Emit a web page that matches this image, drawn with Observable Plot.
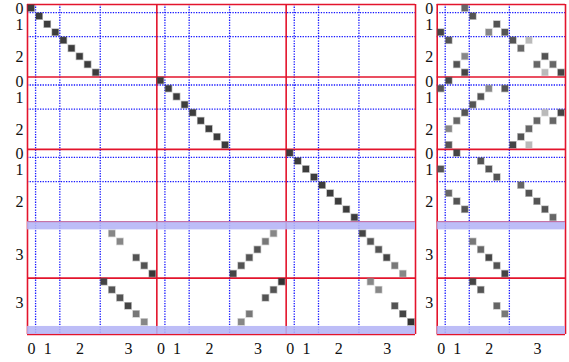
<!DOCTYPE html>
<html><head><meta charset="utf-8">
<script src="https://cdn.jsdelivr.net/npm/d3@7"></script>
<script src="https://cdn.jsdelivr.net/npm/@observablehq/plot@0.6"></script>
<style>
html,body{margin:0;padding:0;background:#fff;}
#wrap{display:flex;width:569px;height:362px;overflow:hidden;}
#wrap svg{display:block;flex:none;}
</style></head><body><div id="wrap"></div>
<script>
// tick labels (degree l) and multiplicities 2l+1
const degreeLabels = ["0", "1", "2", "3"];
const degreeSizes = [1, 3, 5, 7];
// row groups of the matrices (degrees in each group)
const rowGroups = [[0, 1, 2], [0, 1, 2], [0, 1, 2], [3], [3]];
// masked (shaded) rows
const maskedRows = [27, 40];
// number of column blocks per matrix
const leftBlocks = 3;
const rightBlocks = 1;

// cells: [row, col, darkness]
const leftDiagonal = [
  [0,0,.76],[1,1,.76],[2,2,.76],[3,3,.76],[4,4,.76],[5,5,.76],[6,6,.76],[7,7,.76],[8,8,.76],
  [9,16,.76],[10,17,.76],[11,18,.76],[12,19,.76],[13,20,.76],[14,21,.76],[15,22,.76],[16,23,.76],[17,24,.76],
  [18,32,.76],[19,33,.76],[20,34,.76],[21,35,.76],[22,36,.76],[23,37,.76],[24,38,.76],[25,39,.76],[26,40,.76]
];
const leftDegree3 = [
  [28,10,.47],[29,11,.47],[31,13,.67],[32,14,.67],[33,15,.78],
  [34,9,.73],[35,10,.67],[36,11,.67],[37,12,.73],[38,13,.53],[39,14,.47],
  [28,30,.47],[29,29,.53],[30,28,.67],[31,27,.67],[32,26,.67],[33,25,.73],
  [34,31,.8],[35,30,.67],[36,29,.67],[38,27,.53],[39,26,.47],
  [28,41,.73],[29,42,.67],[30,43,.67],[31,44,.73],[32,45,.53],[33,46,.47],
  [34,42,.47],[35,43,.47],[37,45,.67],[38,46,.73],[39,47,.8]
];
const rightCells = [
  [0,3,.6],[1,4,.67],[2,7,.67],[3,0,.73],[3,6,.47],[3,8,.67],[4,1,.67],[4,9,.67],[4,11,.27],
  [5,10,.6],[6,3,.47],[6,13,.67],[7,2,.67],[7,12,.6],[7,14,.6],[8,3,.73],[8,13,.27],[8,15,.73],
  [9,1,.73],[10,0,.67],[10,6,.47],[10,8,.67],[11,5,.67],[12,4,.67],[13,3,.67],[13,13,.27],[13,15,.73],
  [14,2,.6],[14,12,.6],[14,14,.6],[15,1,.47],[15,11,.6],[16,10,.67],[17,1,.67],[17,9,.73],[17,11,.27],
  [18,2,.73],[19,5,.67],[20,0,.67],[20,6,.67],[21,7,.67],[22,10,.6],[23,1,.6],[23,11,.67],
  [24,2,.67],[24,12,.67],[25,3,.67],[25,13,.67],[26,14,.6],
  [29,4,.53],[30,5,.6],[31,6,.73],[32,7,.67],[33,8,.73],
  [34,4,.73],[35,5,.67],[37,7,.6],[38,8,.53]
];

// ---- derived structure ----
const degStart = degreeSizes.map((s, i) => d3.sum(degreeSizes.slice(0, i)));
const blockSize = d3.sum(degreeSizes);
const groupStart = rowGroups.map((g, i) => d3.sum(rowGroups.slice(0, i), gg => d3.sum(gg, l => degreeSizes[l])));
const nRows = d3.sum(rowGroups, g => d3.sum(g, l => degreeSizes[l]));
const redRows = [...groupStart, nRows];
const blueRows = [];
const yTicks = [];
rowGroups.forEach((g, gi) => {
  let off = groupStart[gi];
  g.forEach((l, k) => {
    if (k > 0) blueRows.push(off);
    const rows = d3.range(off, off + degreeSizes[l]).filter(r => !maskedRows.includes(r));
    yTicks.push({pos: (d3.min(rows) + d3.max(rows) + 1) / 2, label: degreeLabels[l]});
    off += degreeSizes[l];
  });
});

const FONT = "'Liberation Serif', 'DejaVu Serif', serif";
const RED = "#e3142c";
const BLUE = "#1515ff";

function matrix(cells, nBlocks, opts) {
  const nCols = nBlocks * blockSize;
  const redCols = d3.range(nBlocks + 1).map(b => b * blockSize);
  const blueCols = d3.range(nBlocks).flatMap(b => degStart.slice(1).map(s => b * blockSize + s));
  const xTicks = d3.range(nBlocks).flatMap(b => degreeLabels.map((lab, i) => ({pos: b * blockSize + degStart[i] + degreeSizes[i] / 2, label: lab})));
  return Plot.plot({
    width: opts.width, height: 362,
    marginLeft: opts.marginLeft, marginRight: opts.marginRight, marginTop: 4, marginBottom: 28,
    x: {domain: [0, nCols], axis: null},
    y: {domain: [0, nRows], reverse: true, axis: null},
    color: {type: "linear", domain: [0, 1], range: ["#ffffff", "#000000"]},
    marks: [
      Plot.ruleX(blueCols, {x: d => d, y1: 0, y2: nRows, stroke: BLUE, strokeWidth: 1.3, strokeDasharray: "1.3,1.3"}),
      Plot.ruleY(blueRows, {y: d => d, x1: 0, x2: nCols, stroke: BLUE, strokeWidth: 1.3, strokeDasharray: "1.3,1.3"}),
      Plot.ruleY(redRows, {y: d => d, x1: 0, x2: nCols, stroke: RED, strokeWidth: 1.6}),
      Plot.ruleX(redCols, {x: d => d, y1: 0, y2: nRows, stroke: RED, strokeWidth: 1.6}),
      Plot.rect(maskedRows, {x1: 0, x2: nCols, y1: d => d, y2: d => d + 1, fill: "#b4b4f6", fillOpacity: 0.88}),
      Plot.rect(cells, {x1: d => d[1], x2: d => d[1] + 1, y1: d => d[0], y2: d => d[0] + 1,
        fill: d => d[2], stroke: d => d[2], strokeOpacity: 0.4, strokeWidth: 1.4, inset: 0.9}),
      Plot.text(yTicks, {x: 0, y: "pos", text: "label", textAnchor: "end", dx: -4, dy: 0.5,
        fontSize: 16, fontFamily: FONT, fill: "#111"}),
      Plot.text(xTicks, {x: "pos", y: nRows, text: "label", dy: 14,
        fontSize: 16, fontFamily: FONT, fill: "#111"})
    ]
  });
}

const wrap = document.getElementById("wrap");
wrap.appendChild(matrix([...leftDiagonal, ...leftDegree3], leftBlocks, {width: 420, marginLeft: 27, marginRight: 5}));
wrap.appendChild(matrix(rightCells, rightBlocks, {width: 149, marginLeft: 16.7, marginRight: 4}));
</script></body></html>
